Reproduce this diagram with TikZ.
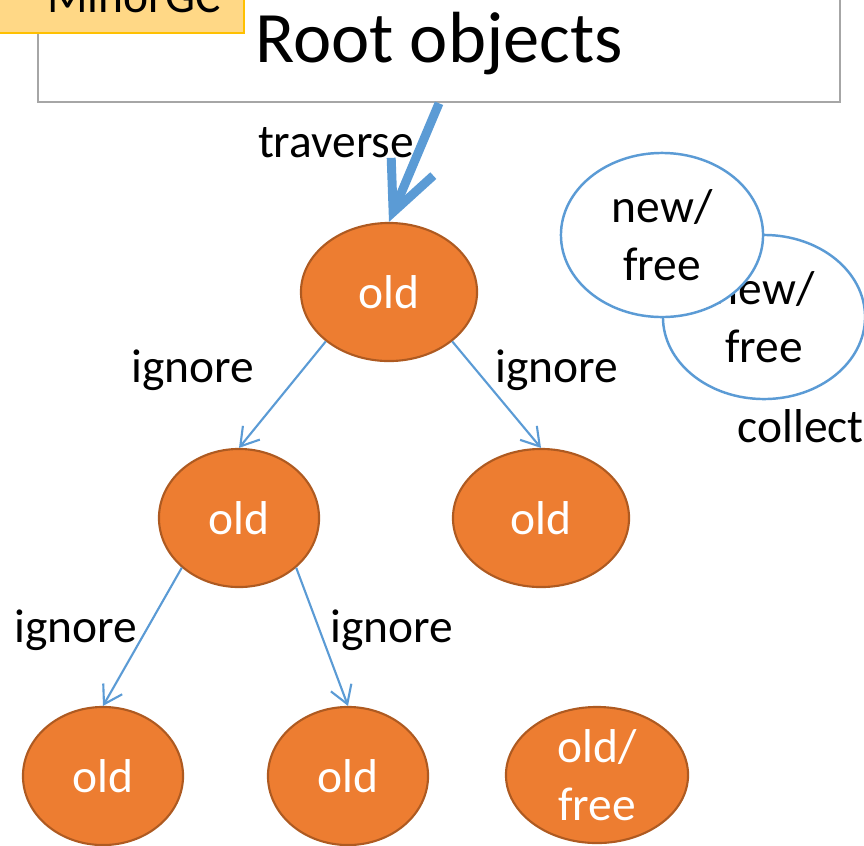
\documentclass[tikz,border=0pt]{standalone}
\usepackage{fontspec}
\setmainfont{Carlito}
\usepackage{xcolor}
\usepackage{tikz}
\usetikzlibrary{shapes.geometric, arrows.meta}

\definecolor{oldfill}{HTML}{ED7D31}
\definecolor{oldline}{HTML}{AE5A21}
\definecolor{refblue}{HTML}{5B9BD5}
\definecolor{gcfill}{HTML}{FFD886}
\definecolor{gcline}{HTML}{FFC000}
\definecolor{rootline}{HTML}{A6A6A6}

\newcommand{\gctext}{\fontsize{13.5}{16.4}\selectfont}
\newcommand{\gcroot}{\fontsize{20.6}{24}\selectfont}

\begin{document}
\begin{tikzpicture}[x=0.01cm, y=-0.01cm,
		oldobj/.style={ellipse, draw=oldline, fill=oldfill, line width=0.6pt, text=white,
			minimum width=1.6cm, minimum height=1.38cm, inner sep=0pt, font=\gctext, align=center},
		newobj/.style={ellipse, draw=refblue, fill=white, line width=0.7pt,
			minimum width=2.02cm, minimum height=1.64cm, inner sep=0pt, font=\gctext, align=center},
		tag/.style={font=\gctext, anchor=base, inner sep=0pt},
		ref/.style={draw=refblue, line width=0.6pt, -{Straight Barb[length=5pt, width=6.2pt]}}]
		\useasboundingbox (0,0) rectangle (864,845);
		\clip (0,0) rectangle (864,845);
		
		% root set and the GC tag
		\node [draw=rootline, line width=0.7pt, fill=white, minimum width=8.02cm, minimum height=1.42cm] (root) at (439,31) {};
		\node [tag, font=\gcroot] (root text) at (439,62) {Root objects};
		\node [draw=gcline, line width=0.6pt, fill=gcfill, minimum width=2.7cm, minimum height=0.73cm] (minor gc) at (109,-3.5) {};
		\node [tag] (minor gc text) at (134,12) {MinorGC};
		
		% old generation
		\node [oldobj, minimum width=1.76cm] (old top) at (389,292) {old};
		\node [oldobj] (old left) at (239,518) {old};
		\node [oldobj, minimum width=1.76cm] (old right) at (541,518) {old};
		\node [oldobj] (old ll) at (103,776) {old};
		\node [oldobj] (old lr) at (348,776) {old};
		\node [oldobj, minimum width=1.82cm, minimum height=1.36cm] (old free) at (597,775) {old/\\free};
		
		% young generation
		\node [newobj] (new back) at (764,317) {new/\\free};
		\node [newobj] (new front) at (662,235) {new/\\free};
		
		\draw [refblue, line width=2.55pt, -{Straight Barb[length=14pt, width=13pt]}] (root.south) -- (old top.north);
		
		\begin{scope}[ref]
			\draw (old top.218) -- (old left.north);
			\draw (old top.322) -- (old right.north);
			\draw (old left.221) -- (old ll.north);
			\draw (old left.319) -- (old lr.north);
		\end{scope}
		
		\node [tag] (traverse) at (336,157) {traverse};
		\node [tag] (ignore a) at (193,382) {ignore};
		\node [tag] (ignore b) at (557,382) {ignore};
		\node [tag] (ignore c) at (76,642) {ignore};
		\node [tag] (ignore d) at (392,642) {ignore};
		\node [tag, anchor=base west] (collect) at (737,442) {collect};
	\end{tikzpicture}
\end{document}
